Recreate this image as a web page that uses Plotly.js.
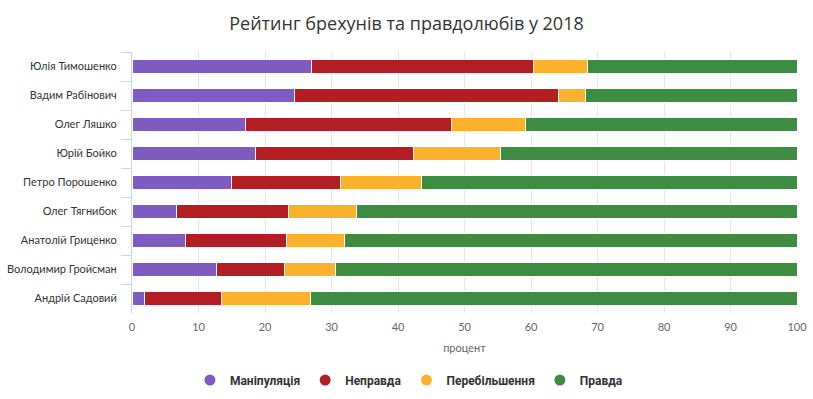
<!DOCTYPE html>
<html>
<head>
<meta charset="utf-8">
<script src="https://cdn.plot.ly/plotly-3.0.1.min.js"></script>
<style>html,body{margin:0;padding:0;background:#fff;}#chart{width:813px;height:399px;}</style>
</head>
<body>
<div id="chart"></div>
<script>
const politicians = ["Юлія Тимошенко","Вадим Рабінович","Олег Ляшко","Юрій Бойко","Петро Порошенко","Олег Тягнибок","Анатолій Гриценко","Володимир Гройсман","Андрій Садовий"];
const manipulation = [27.0, 24.4, 17.1, 18.6, 14.9, 6.7, 8.1, 12.7, 1.9];
const untruth = [33.4, 39.8, 31.0, 23.8, 16.5, 16.9, 15.2, 10.3, 11.6];
const exaggeration = [8.1, 4.0, 11.1, 13.0, 12.2, 10.2, 8.6, 7.6, 13.4];
const truth = [31.5, 31.8, 40.8, 44.6, 56.4, 66.2, 68.1, 69.4, 73.1];
const seriesNames = ["Маніпуляція","Неправда","Перебільшення","Правда"];
const seriesColors = ["#7e5bc0","#b31d24","#fbb12c","#3e8c41"];
const seriesValues = [manipulation, untruth, exaggeration, truth];

const traces = seriesValues.map((vals, i) => ({
  type: "bar",
  orientation: "h",
  name: seriesNames[i],
  x: vals,
  y: politicians,
  marker: {color: seriesColors[i], line: {color: "#ffffff", width: 1}},
  hoverinfo: "x+name",
  showlegend: false,
  legendgroup: seriesNames[i]
}));
// marker-only traces that give the legend its round symbols
const legendTraces = seriesNames.map((n, i) => ({
  type: "scatter", mode: "markers", x: [null], y: [politicians[0]], name: n,
  marker: {color: seriesColors[i], size: 11, symbol: "circle"},
  showlegend: true, legendgroup: n, hoverinfo: "skip"
}));

const layout = {
  width: 813, height: 399,
  margin: {l: 132, r: 16, t: 52, b: 86, autoexpand: false},
  paper_bgcolor: "#fff", plot_bgcolor: "#fff",
  barmode: "stack",
  bargap: 0.55,
  font: {family: "Lato, 'Open Sans', sans-serif", color: "#333"},
  title: {text: "Рейтинг брехунів та правдолюбів у 2018", x: 0.5, xanchor: "center", y: 0.94, yanchor: "middle",
          font: {family: "'Open Sans', 'Noto Sans', sans-serif", size: 18, color: "#333"}},
  xaxis: {type: "linear", range: [0, 100], dtick: 10, showgrid: true, gridcolor: "#e6e6e6", gridwidth: 1, zeroline: false,
          showline: false, ticks: "", tickfont: {size: 11, color: "#666"}, ticklabelstandoff: 6,
          title: {text: "процент", font: {size: 11, color: "#666"}, standoff: 12}, fixedrange: true, automargin: false},
  yaxis: {type: "category", autorange: false, range: [politicians.length - 0.5, -0.5], showline: true, linecolor: "#ccd6eb", linewidth: 1, ticks: "outside",
          tickson: "boundaries", ticklen: 10, tickcolor: "#ccd6eb", tickfont: {size: 11, color: "#333"},
          ticklabelstandoff: 12, showgrid: false, fixedrange: true, automargin: false},
  legend: {orientation: "h", xref: "container", x: 0.503, xanchor: "center", y: -0.257, yanchor: "middle",
           font: {size: 12, color: "#333", family: "Roboto, sans-serif", weight: "bold"}, itemclick: false},
  showlegend: true
};
Plotly.newPlot("chart", traces.concat(legendTraces), layout, {displayModeBar: false});
</script>
</body>
</html>
